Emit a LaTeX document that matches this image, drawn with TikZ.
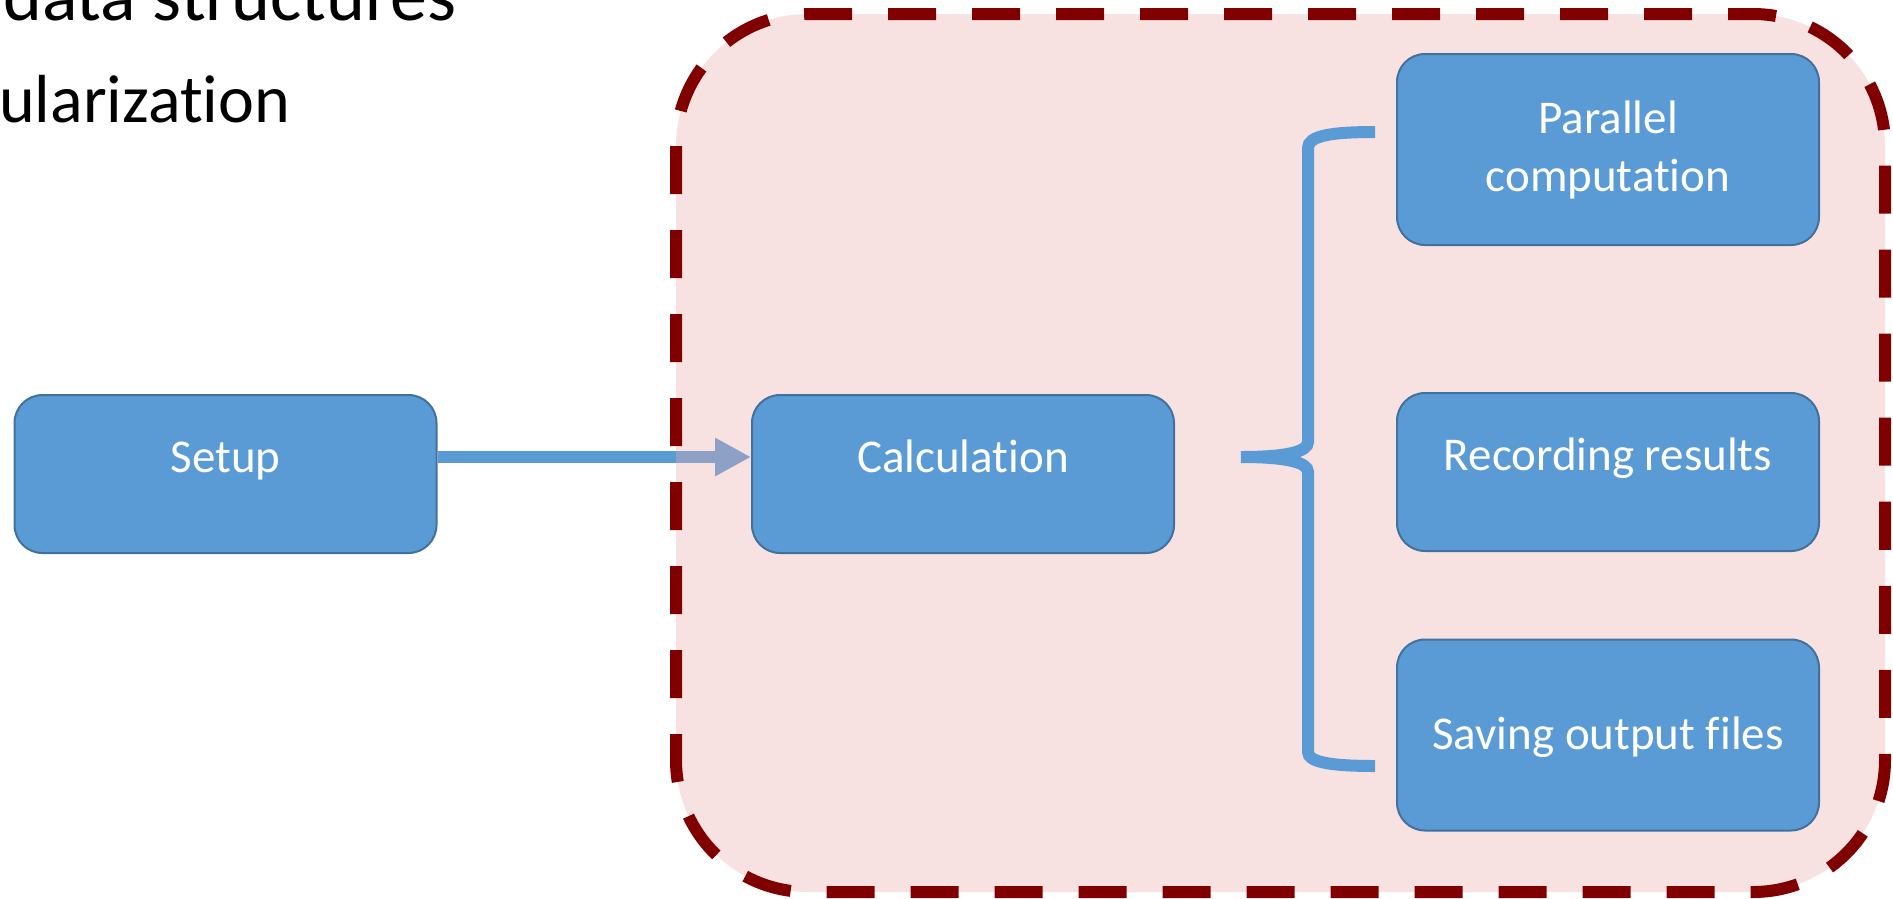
\documentclass[tikz,border=0pt]{standalone}
\usepackage{fontspec}
\setmainfont{Carlito}[Ligatures=NoCommon]
\usetikzlibrary{arrows.meta}

\definecolor{boxblue}{RGB}{91,155,213}
\definecolor{boxedge}{RGB}{65,113,156}
\definecolor{darkred}{RGB}{128,0,0}
\definecolor{softred}{RGB}{235,170,170}

\pgfdeclarelayer{under}
\pgfdeclarelayer{background}
\pgfsetlayers{under,background,main}

\tikzset{
	stage/.style={draw=boxedge, line width=2pt, fill=boxblue, rounded corners=28pt,
		minimum width=422pt, text=white, align=center, font=\fontsize{47}{58}\selectfont},
	lifted/.style={text height=30pt, text depth=34pt},
	bigtext/.style={anchor=base west, inner sep=0pt},
}

\begin{document}
\begin{tikzpicture}[x=1pt, y=-1pt]
		\useasboundingbox (0, 0) rectangle (1893, 898);
		\clip (0, 0) rectangle (1893, 898);

		\node[bigtext, font=\fontsize{74}{88}\selectfont] (structs) at (3, 20) {data structures};
		\node[bigtext, font=\fontsize{68}{82}\selectfont] (modular) at (-1, 122) {ularization};

		\node[stage, lifted, minimum height=158pt] (setup) at (225.5, 474) {Setup};
		\node[stage, lifted, minimum height=158pt] (calc) at (963, 474) {Calculation};
		\node[stage, minimum height=191pt] (parallel) at (1608, 149.5) {Parallel\\computation};
		\node[stage, lifted, minimum height=158pt] (record) at (1608, 472) {Recording results};
		\node[stage, text height=34pt, text depth=6pt, minimum height=191pt] (saving) at (1608, 735) {Saving output files};

		\begin{pgfonlayer}{under}
			\draw[line width=12pt, boxblue, -{Triangle[length=36pt, width=36pt]}]
			([yshift=17pt]setup.east) -- ([yshift=17pt]calc.west);
		\end{pgfonlayer}

		\begin{pgfonlayer}{background}
			\draw[line width=12pt, color=darkred, fill=softred, fill opacity=0.35,
			rounded corners=132pt, dash pattern=on 48pt off 36pt]
			(676, 14) rectangle (1885, 892);
		\end{pgfonlayer}

		% brace
		\draw[line width=12pt, boxblue]
		(1375, 132) .. controls (1330, 132) and (1308, 136) .. (1308, 148) --
		(1308, 442) .. controls (1308, 452) and (1285, 457) .. (1241, 457)
		.. controls (1285, 457) and (1308, 462) .. (1308, 472) --
		(1308, 752) .. controls (1308, 762) and (1330, 766) .. (1375, 766);
	\end{tikzpicture}
\end{document}
